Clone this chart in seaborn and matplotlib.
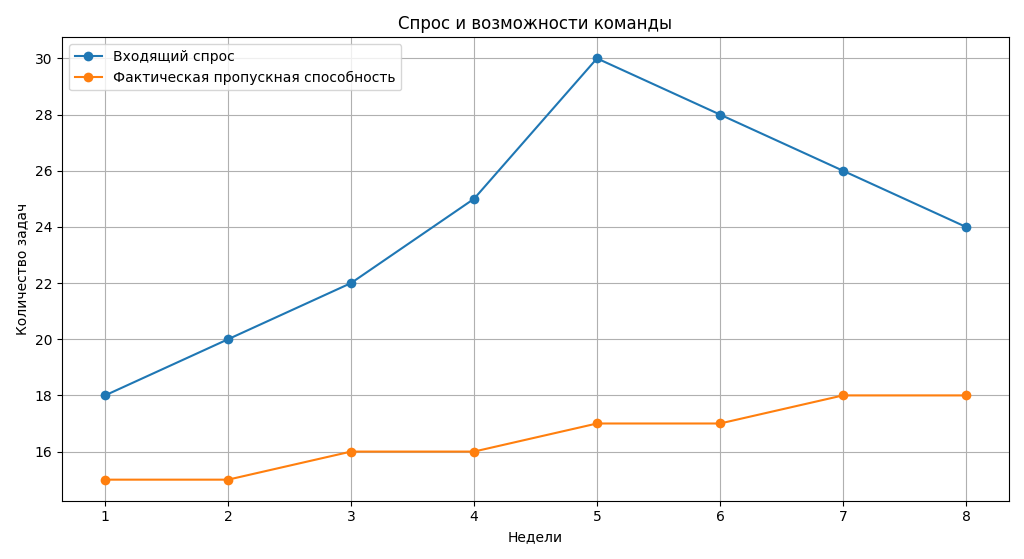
import matplotlib
matplotlib.use("Agg")
import matplotlib.pyplot as plt
import seaborn as sns

weeks = [1, 2, 3, 4, 5, 6, 7, 8]
demand = [18, 20, 22, 25, 30, 28, 26, 24]
capacity = [15, 15, 16, 16, 17, 17, 18, 18]

plt.style.use('default')
plt.rcParams['font.family'] = ['DejaVu Sans']
fig, ax = plt.subplots(figsize=(10.24, 5.59), dpi=100)
sns.lineplot(x=weeks, y=demand, marker='o', markersize=7, markeredgewidth=0, color='#1f77b4', linewidth=1.5, label='Входящий спрос', ax=ax)
sns.lineplot(x=weeks, y=capacity, marker='o', markersize=7, markeredgewidth=0, color='#ff7f0e', linewidth=1.5, label='Фактическая пропускная способность', ax=ax)
ax.set_title('Спрос и возможности команды')
ax.set_xlabel('Недели')
ax.set_ylabel('Количество задач')
ax.set_xticks(weeks)
ax.grid(True, color='#b0b0b0')
ax.legend(loc='upper left')
fig.tight_layout()
fig.savefig('out.png')
